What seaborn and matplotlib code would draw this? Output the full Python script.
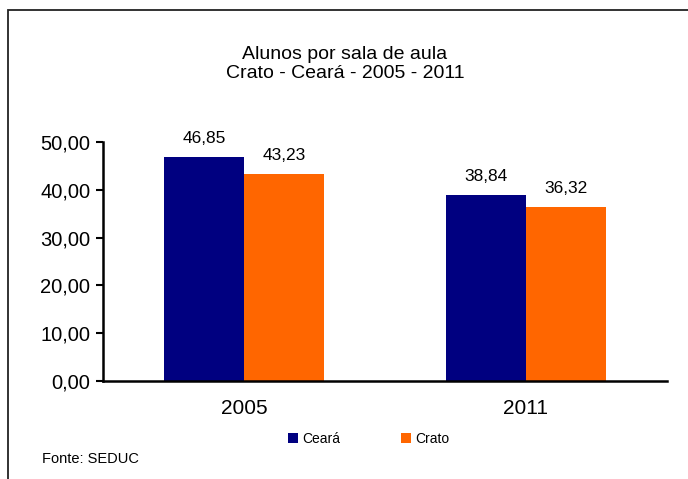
import matplotlib
matplotlib.use("Agg")
import matplotlib.pyplot as plt
import seaborn as sns
import pandas as pd
from matplotlib.patches import Rectangle, Patch

anos = ["2005", "2011"]
series = ["Ceará", "Crato"]
ceara = [46.85, 38.84]
crato = [43.23, 36.32]
yticks = [0, 10, 20, 30, 40, 50]
colors = ["#000080", "#FF6600"]

df = pd.DataFrame({
    "ano": anos * 2,
    "serie": [series[0]] * 2 + [series[1]] * 2,
    "valor": ceara + crato,
})

sns.set_theme(style="white")
plt.rcParams["font.family"] = ["Liberation Sans", "DejaVu Sans"]
plt.rcParams["text.color"] = "black"

W, H = 688, 479
fig = plt.figure(figsize=(W / 100, H / 100), dpi=100)
ax = fig.add_axes([103 / W, 1 - 381 / H, (667 - 103) / W, (381 - 142) / H])

sns.barplot(data=df, x="ano", y="valor", hue="serie", order=anos, hue_order=series,
            palette=colors, width=0.567, gap=0, saturation=1, ax=ax, legend=False,
            edgecolor="none", linewidth=0)

for cont in ax.containers:
    labels = [f"{v:.2f}".replace(".", ",") for v in cont.datavalues]
    ax.bar_label(cont, labels=labels, padding=8, fontsize=12.5, color="black")

ax.set_xlim(-0.5, 1.5)
ax.set_ylim(0, 50)
ax.set_yticks(yticks)
ax.set_yticklabels([f"{v:.2f}".replace(".", ",") for v in yticks], fontsize=14.5, color="black")
ax.set_xticks([0, 1])
ax.set_xticklabels(anos, fontsize=15, color="black")
ax.set_xticks([-0.5, 0.5, 1.5], minor=True)
ax.tick_params(axis="x", which="major", length=0, pad=13)
ax.tick_params(axis="x", which="minor", length=5, width=1.5, color="black", direction="out")
ax.tick_params(axis="y", length=5, width=1.5, color="black", direction="out", pad=4, left=True)
ax.set_xlabel("")
ax.set_ylabel("")
for s in ["top", "right"]:
    ax.spines[s].set_visible(False)
for s in ["left", "bottom"]:
    ax.spines[s].set_color("black")
    ax.spines[s].set_linewidth(1.8)

fig.text(345 / W, 1 - 64 / H, "Alunos por sala de aula\nCrato - Ceará - 2005 - 2011",
         ha="center", va="center", fontsize=14, linespacing=1.15, color="black")

handles = [Patch(facecolor=c, edgecolor="none") for c in colors]
fig.legend(handles, series, loc="center", bbox_to_anchor=(369 / W, 1 - 439 / H),
           ncol=2, frameon=False, fontsize=10, handlelength=0.7, handleheight=0.7,
           handletextpad=0.3, columnspacing=4.4, labelcolor="black")

fig.text(42 / W, 1 - 459 / H, "Fonte: SEDUC", ha="left", va="center", fontsize=10.5, color="black")

fig.patches.append(Rectangle((8 / W, -0.1), 1.2, (1 + 0.1) - 10 / H, transform=fig.transFigure,
                             fill=False, edgecolor="#222222", linewidth=1.3, zorder=0))

fig.savefig("out.png", dpi=100)
